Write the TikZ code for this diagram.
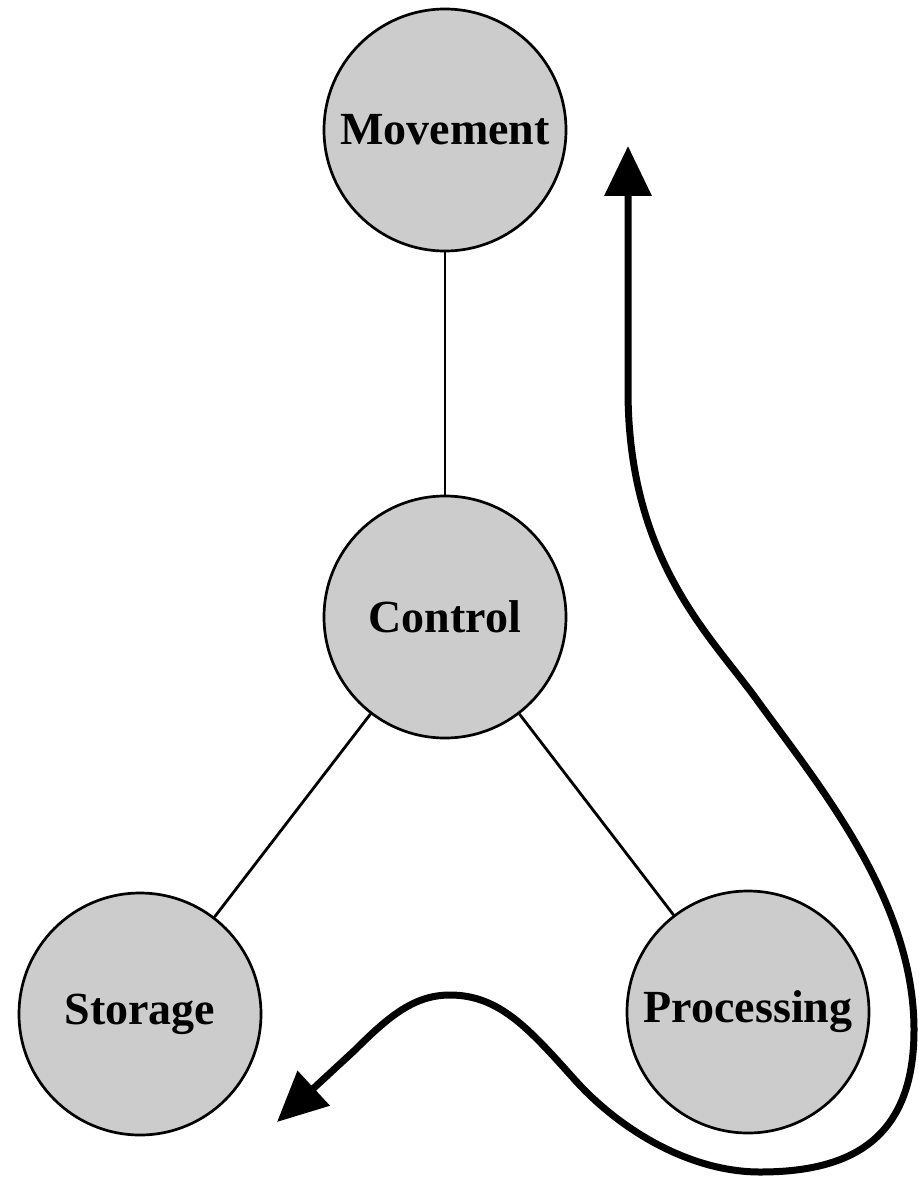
\documentclass[tikz,border=0pt]{standalone}
\usepackage{fontspec}
\setmainfont{Liberation Serif}
\usetikzlibrary{arrows.meta}
\definecolor{nodegray}{HTML}{CCCCCC}
\tikzset{
  unit/.style={circle, draw=black, line width=2.7pt, fill=nodegray,
    minimum size=242pt, inner sep=0pt, font=\fontsize{46}{50}\selectfont\bfseries},
  link/.style={line width=2.8pt},
  flow/.style={line width=7pt, {Triangle[length=50pt,width=46pt]}-{Triangle[length=50pt,width=46pt]}}
}
\begin{document}
\begin{tikzpicture}[x=1pt,y=-1pt]
\useasboundingbox (0,0) rectangle (918,1177);
\node[unit] (mov) at (445,130) {Movement};
\node[unit] (ctl) at (445,617) {Control};
\node[unit] (sto) at (140,1014) {Storage};
\node[unit] (pro) at (748,1012) {Processing};
\draw[link] (mov) -- (ctl);
\draw[link] (ctl) -- (sto);
\draw[link] (ctl) -- (pro);
\coordinate (toptip) at (628,146);
\coordinate (bottip) at (277,1122);
\draw[flow] (toptip) -- (628,390)
  .. controls (628,560) and (710,635) .. (757,700)
  .. controls (820,787) and (914,900) .. (914,1030)
  .. controls (914,1140) and (850,1172) .. (760,1172)
  .. controls (690,1172) and (620,1130) .. (575,1080)
  .. controls (530,1030) and (500,995) .. (450,995)
  .. controls (415,995) and (390,1015) .. (355,1050)
  -- (bottip);
\end{tikzpicture}
\end{document}
